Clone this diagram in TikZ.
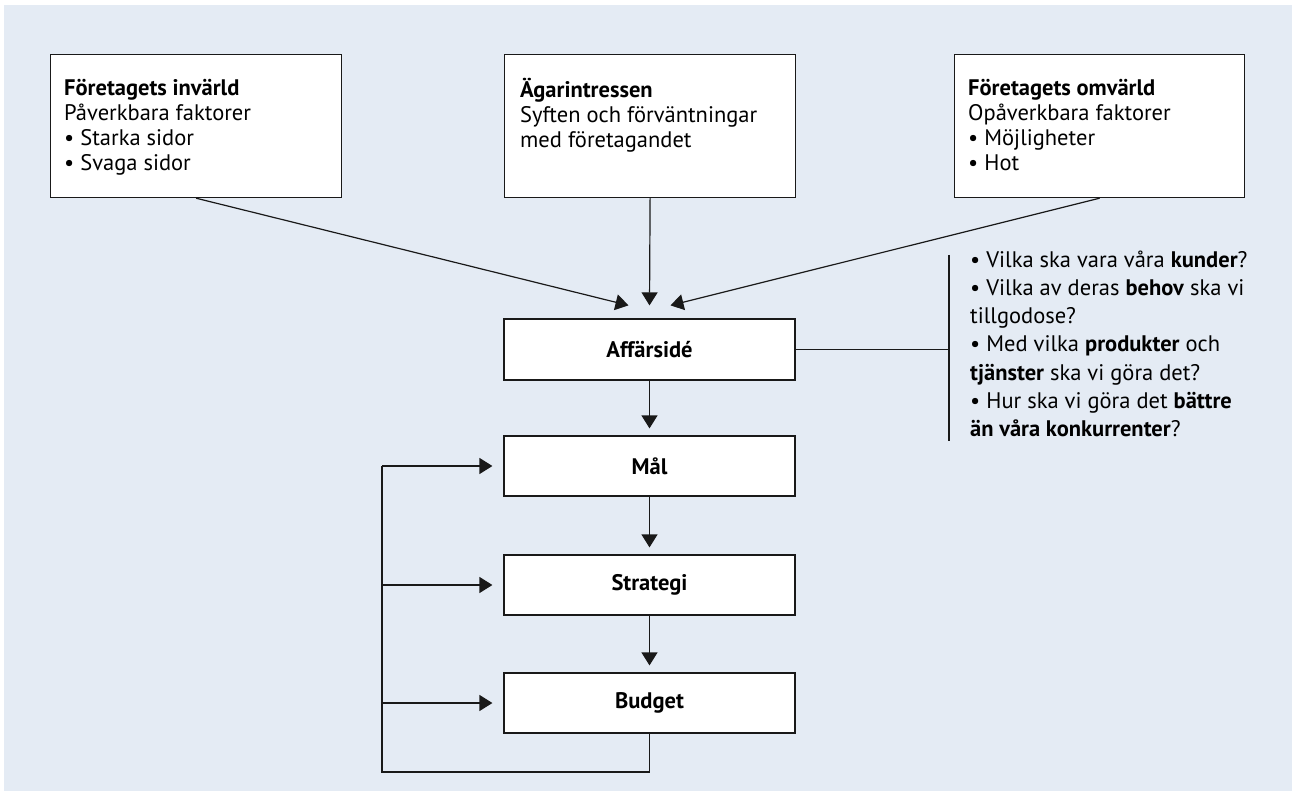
\documentclass[tikz,border=0pt]{standalone}
\usepackage{fontspec}
\setmainfont{PT Sans}
\usetikzlibrary{arrows.meta,calc}
\definecolor{bgblue}{RGB}{228,235,244}
\definecolor{edge}{RGB}{25,25,25}
\tikzset{
  box/.style={draw=edge, fill=white, line width=1.2pt, minimum width=291pt, inner sep=0pt},
  topbox/.style={box, anchor=north west, minimum height=143pt},
  stepbox/.style={box, minimum height=60pt, font=\fontsize{22.5}{25}\selectfont\bfseries},
  boxtext/.style={anchor=north west, align=left, inner sep=0pt, font=\fontsize{22.5}{25}\selectfont},
  listtext/.style={anchor=north west, align=left, inner sep=0pt, font=\fontsize{22.5}{28.3}\selectfont},
  conn/.style={draw=edge, line width=1.2pt},
  arr/.style={conn, -{Triangle[length=13pt,width=16pt]}}
}
\begin{document}
\begin{tikzpicture}[x=1pt, y=-1pt]
  \useasboundingbox (0,0) rectangle (1292,791);
  \fill[bgblue] (4,5) rectangle (1292,791);

  % Top: three sources
  \node[topbox] (inv) at (50,54) {};
  \node[boxtext] (invtext) at ($(inv.north west)+(14,24)$) {\strut\textbf{Företagets invärld}\\Påverkbara faktorer\\\textbullet\ Starka sidor\\\textbullet\ Svaga sidor};
  \node[topbox] (agar) at (504,54) {};
  \node[boxtext] (agartext) at ($(agar.north west)+(16,24)$) {\strut\textbf{Ägarintressen}\\Syften och förväntningar\\med företagandet};
  \node[topbox, minimum width=290pt] (omv) at (954,54) {};
  \node[boxtext] (omvtext) at ($(omv.north west)+(14,24)$) {\strut\textbf{Företagets omvärld}\\Opåverkbara faktorer\\\textbullet\ Möjligheter\\\textbullet\ Hot};

  % Middle: chain of steps
  \node[stepbox, minimum height=61pt] (affar) at (649.5,349.5) {Affärsidé};
  \node[stepbox] (mal) at (649.5,466) {Mål};
  \node[stepbox] (strat) at (649.5,585) {Strategi};
  \node[stepbox] (budget) at (649.5,703) {Budget};

  \draw[arr] (inv.south) -- ($(affar.north)+(-21,-13)$);
  \draw[arr] (agar.south) -- ($(affar.north)+(0,-13)$);
  \draw[arr] (omv.south) -- ($(affar.north)+(21,-13)$);
  \draw[arr, shorten >=7pt] (affar) -- (mal);
  \draw[arr, shorten >=7pt] (mal) -- (strat);
  \draw[arr, shorten >=7pt] (strat) -- (budget);

  % Feedback loop
  \coordinate (loop) at (382,772);
  \draw[conn] (budget.south) |- (loop) -- (loop |- mal.west);
  \draw[arr, shorten >=11pt] (loop |- mal.west) -- (mal.west);
  \draw[arr, shorten >=11pt] (loop |- strat.west) -- (strat.west);
  \draw[arr, shorten >=11pt] (loop |- budget.west) -- (budget.west);

  % Right: questions
  \coordinate (brtop) at (949,255);
  \coordinate (brbot) at (949,441);
  \draw[conn] (brtop) -- (brbot);
  \draw[conn] (affar.east) -- (affar.east -| brtop);
  \node[listtext] (fragor) at (970,247) {\strut\textbullet\ Vilka ska vara våra \textbf{kunder}?\\
    \textbullet\ Vilka av deras \textbf{behov} ska vi\\
    tillgodose?\\
    \textbullet\ Med vilka \textbf{produkter} och\\
    \textbf{tjänster} ska vi göra det?\\
    \textbullet\ Hur ska vi göra det \textbf{bättre}\\
    \textbf{än våra konkurrenter}?};
\end{tikzpicture}
\end{document}
